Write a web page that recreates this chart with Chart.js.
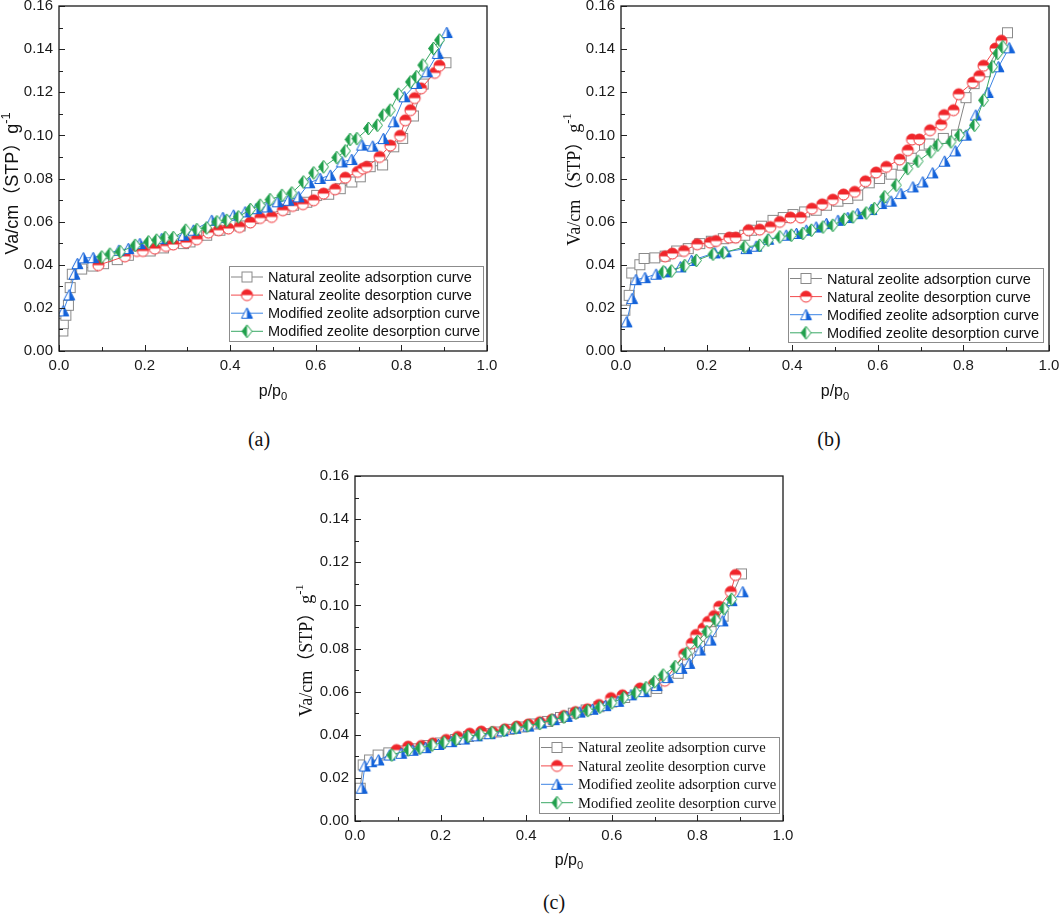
<!DOCTYPE html>
<html>
<head>
<meta charset="utf-8">
<script src="https://cdn.jsdelivr.net/npm/chart.js@4.4.1/dist/chart.umd.min.js"></script>
<style>
    html, body { margin: 0; padding: 0; background: #fff; overflow: hidden; width: 1059px; height: 921px; }
    canvas { position: absolute; }
    .cap { position: absolute; font-family: 'Liberation Serif', 'Times New Roman', serif; font-size: 20px; color: #111; transform: translate(-50%, -50%); }
</style>
</head>
<body>
<canvas id="chartA" width="510" height="424" style="left:0;top:-14px"></canvas>
<canvas id="chartB" width="510" height="424" style="left:562px;top:-14px"></canvas>
<canvas id="chartC" width="510" height="424" style="left:296px;top:456px"></canvas>
<div class="cap" style="left:259px;top:439px">(a)</div>
<div class="cap" style="left:829px;top:439px">(b)</div>
<div class="cap" style="left:554px;top:902px">(c)</div>

<script>
const seriesNames = [
    'Natural zeolite adsorption curve',
    'Natural zeolite desorption curve',
    'Modified zeolite adsorption curve',
    'Modified zeolite desorption curve'
];
const xTickLabels = ['0.0', '0.2', '0.4', '0.6', '0.8', '1.0'];
const yTickLabels = ['0.00', '0.02', '0.04', '0.06', '0.08', '0.10', '0.12', '0.14', '0.16'];

// (a) values as [p/p0, Va]
const aNatAds = [[0.009,0.0093],[0.010,0.0127],[0.016,0.0166],[0.022,0.0212],[0.026,0.0294],[0.031,0.0356],[0.053,0.0380],[0.079,0.0394],[0.104,0.0405],[0.136,0.0424],[0.162,0.0444],[0.213,0.0464],[0.244,0.0478],[0.291,0.0498],[0.306,0.0506],[0.345,0.0537],[0.376,0.0560],[0.423,0.0580],[0.454,0.0614],[0.478,0.0630],[0.528,0.0656],[0.548,0.0676],[0.579,0.0690],[0.602,0.0722],[0.630,0.0727],[0.657,0.0753],[0.684,0.0784],[0.704,0.0808],[0.727,0.0855],[0.756,0.0863],[0.782,0.0947],[0.803,0.0986],[0.828,0.1090],[0.851,0.1238],[0.904,0.1337]];
const aNatDes = [[0.092,0.0398],[0.154,0.0439],[0.182,0.0464],[0.196,0.0464],[0.224,0.0475],[0.250,0.0487],[0.267,0.0494],[0.297,0.0503],[0.322,0.0518],[0.349,0.0549],[0.373,0.0560],[0.396,0.0568],[0.422,0.0575],[0.447,0.0596],[0.470,0.0617],[0.497,0.0622],[0.523,0.0653],[0.546,0.0673],[0.570,0.0681],[0.595,0.0699],[0.618,0.0730],[0.645,0.0750],[0.669,0.0804],[0.698,0.0831],[0.710,0.0846],[0.719,0.0854],[0.749,0.0900],[0.774,0.0953],[0.797,0.0998],[0.809,0.1070],[0.821,0.1117],[0.831,0.1173],[0.846,0.1218],[0.878,0.1290],[0.889,0.1323]];
const aModAds = [[0.010,0.0186],[0.024,0.0260],[0.036,0.0356],[0.043,0.0405],[0.057,0.0432],[0.080,0.0433],[0.140,0.0467],[0.162,0.0475],[0.189,0.0498],[0.240,0.0521],[0.291,0.0537],[0.314,0.0560],[0.357,0.0606],[0.383,0.0619],[0.408,0.0630],[0.435,0.0645],[0.461,0.0660],[0.486,0.0668],[0.511,0.0692],[0.536,0.0699],[0.560,0.0715],[0.585,0.0780],[0.610,0.0800],[0.634,0.0815],[0.661,0.0877],[0.684,0.0888],[0.708,0.0955],[0.733,0.0950],[0.758,0.0985],[0.782,0.1063],[0.807,0.1179],[0.835,0.1241],[0.860,0.1295],[0.885,0.1380],[0.906,0.1477]];
const aModDes = [[0.100,0.0436],[0.119,0.0449],[0.143,0.0460],[0.178,0.0490],[0.209,0.0506],[0.228,0.0514],[0.248,0.0526],[0.267,0.0526],[0.296,0.0560],[0.322,0.0563],[0.345,0.0571],[0.369,0.0599],[0.392,0.0606],[0.419,0.0622],[0.447,0.0656],[0.470,0.0676],[0.493,0.0702],[0.521,0.0722],[0.544,0.0733],[0.571,0.0784],[0.595,0.0826],[0.618,0.0854],[0.649,0.0897],[0.669,0.0928],[0.680,0.0981],[0.696,0.0985],[0.723,0.1032],[0.744,0.1047],[0.758,0.1094],[0.774,0.1117],[0.793,0.1191],[0.821,0.1248],[0.835,0.1272],[0.850,0.1326],[0.875,0.1403],[0.889,0.1442]];

// (b)
const bNatAds = [[0.009,0.0189],[0.019,0.0258],[0.025,0.0362],[0.044,0.0400],[0.054,0.0429],[0.079,0.0432],[0.103,0.0440],[0.130,0.0464],[0.157,0.0475],[0.184,0.0498],[0.211,0.0509],[0.239,0.0521],[0.262,0.0526],[0.289,0.0537],[0.305,0.0560],[0.328,0.0579],[0.355,0.0606],[0.379,0.0619],[0.402,0.0633],[0.429,0.0645],[0.456,0.0653],[0.480,0.0676],[0.507,0.0695],[0.530,0.0707],[0.553,0.0723],[0.580,0.0780],[0.604,0.0800],[0.631,0.0820],[0.657,0.0862],[0.678,0.0894],[0.709,0.0955],[0.720,0.0960],[0.753,0.0986],[0.784,0.1002],[0.806,0.1175],[0.825,0.1240],[0.851,0.1295],[0.903,0.1476]];
const bNatDes = [[0.103,0.0439],[0.120,0.0452],[0.147,0.0464],[0.178,0.0495],[0.208,0.0503],[0.222,0.0510],[0.253,0.0526],[0.268,0.0526],[0.298,0.0560],[0.324,0.0563],[0.349,0.0575],[0.371,0.0599],[0.396,0.0619],[0.420,0.0619],[0.446,0.0660],[0.470,0.0680],[0.495,0.0702],[0.520,0.0726],[0.546,0.0738],[0.571,0.0787],[0.596,0.0828],[0.620,0.0854],[0.651,0.0888],[0.670,0.0931],[0.680,0.0981],[0.697,0.0981],[0.722,0.1024],[0.748,0.1050],[0.755,0.1094],[0.777,0.1117],[0.789,0.1191],[0.822,0.1245],[0.837,0.1275],[0.847,0.1323],[0.875,0.1403],[0.889,0.1439]];
const bModAds = [[0.013,0.0135],[0.026,0.0243],[0.035,0.0331],[0.056,0.0340],[0.082,0.0356],[0.103,0.0367],[0.139,0.0390],[0.165,0.0420],[0.219,0.0455],[0.245,0.0460],[0.293,0.0475],[0.316,0.0486],[0.344,0.0518],[0.386,0.0537],[0.410,0.0545],[0.433,0.0560],[0.456,0.0575],[0.480,0.0591],[0.507,0.0606],[0.530,0.0619],[0.553,0.0637],[0.585,0.0656],[0.608,0.0684],[0.631,0.0695],[0.654,0.0730],[0.682,0.0761],[0.705,0.0784],[0.728,0.0826],[0.756,0.0880],[0.781,0.0928],[0.806,0.1001],[0.829,0.1094],[0.857,0.1199],[0.882,0.1318],[0.907,0.1406]];
const bModDes = [[0.099,0.0367],[0.118,0.0371],[0.149,0.0396],[0.176,0.0420],[0.215,0.0449],[0.240,0.0456],[0.289,0.0483],[0.324,0.0490],[0.344,0.0514],[0.371,0.0529],[0.398,0.0537],[0.425,0.0545],[0.445,0.0560],[0.472,0.0575],[0.495,0.0583],[0.522,0.0611],[0.542,0.0622],[0.573,0.0640],[0.592,0.0660],[0.616,0.0715],[0.643,0.0769],[0.670,0.0846],[0.694,0.0880],[0.724,0.0924],[0.740,0.0955],[0.771,0.0970],[0.791,0.1001],[0.826,0.1047],[0.847,0.1163],[0.868,0.1318],[0.880,0.1380],[0.892,0.1411]];

// (c)
const cNatAds = [[0.012,0.0152],[0.019,0.0260],[0.034,0.0283],[0.054,0.0306],[0.079,0.0316],[0.110,0.0325],[0.140,0.0335],[0.170,0.0350],[0.200,0.0362],[0.235,0.0378],[0.265,0.0392],[0.300,0.0405],[0.330,0.0413],[0.360,0.0425],[0.390,0.0436],[0.420,0.0450],[0.450,0.0462],[0.480,0.0480],[0.510,0.0500],[0.540,0.0515],[0.570,0.0530],[0.600,0.0552],[0.630,0.0573],[0.680,0.0600],[0.705,0.0615],[0.755,0.0685],[0.777,0.0747],[0.805,0.0810],[0.832,0.0878],[0.860,0.0950],[0.903,0.1146]];
const cNatDes = [[0.097,0.0329],[0.124,0.0345],[0.155,0.0348],[0.182,0.0360],[0.213,0.0376],[0.240,0.0390],[0.268,0.0405],[0.295,0.0415],[0.322,0.0412],[0.350,0.0425],[0.378,0.0438],[0.405,0.0448],[0.432,0.0458],[0.460,0.0470],[0.488,0.0487],[0.515,0.0505],[0.543,0.0518],[0.570,0.0538],[0.598,0.0570],[0.625,0.0583],[0.666,0.0615],[0.698,0.0635],[0.724,0.0651],[0.769,0.0774],[0.787,0.0824],[0.797,0.0863],[0.814,0.0894],[0.825,0.0924],[0.839,0.0951],[0.851,0.0994],[0.878,0.1063],[0.889,0.1141]];
const cModAds = [[0.016,0.0152],[0.023,0.0255],[0.038,0.0275],[0.055,0.0283],[0.081,0.0306],[0.108,0.0314],[0.135,0.0328],[0.165,0.0340],[0.195,0.0355],[0.225,0.0368],[0.255,0.0380],[0.285,0.0395],[0.315,0.0405],[0.345,0.0418],[0.375,0.0430],[0.405,0.0440],[0.435,0.0455],[0.465,0.0470],[0.495,0.0485],[0.525,0.0505],[0.555,0.0518],[0.585,0.0535],[0.615,0.0555],[0.645,0.0585],[0.675,0.0600],[0.705,0.0628],[0.731,0.0665],[0.763,0.0708],[0.781,0.0731],[0.806,0.0793],[0.831,0.0839],[0.859,0.0928],[0.880,0.1022],[0.906,0.1063]];
const cModDes = [[0.086,0.0306],[0.125,0.0330],[0.152,0.0338],[0.180,0.0352],[0.208,0.0365],[0.236,0.0378],[0.264,0.0392],[0.292,0.0402],[0.320,0.0410],[0.348,0.0420],[0.376,0.0432],[0.404,0.0442],[0.432,0.0452],[0.460,0.0468],[0.488,0.0482],[0.516,0.0500],[0.544,0.0512],[0.572,0.0528],[0.600,0.0548],[0.628,0.0572],[0.656,0.0595],[0.680,0.0618],[0.700,0.0646],[0.720,0.0677],[0.748,0.0716],[0.775,0.0778],[0.800,0.0832],[0.822,0.0878],[0.843,0.0932],[0.862,0.0985],[0.880,0.1028]];

const lineColors = ['#858585', '#f24a4d', '#3c84e4', '#3aa866'];
const markColors = ['#8a8a8a', '#f0262b', '#1463da', '#20a04c'];

// half-filled markers like the original plot symbols
function makeMarker(kind, color) {
    const c = document.createElement('canvas');
    c.width = 15; c.height = 15;
    const g = c.getContext('2d');
    g.lineWidth = 1;
    g.strokeStyle = color;
    g.fillStyle = '#fff';
    if (kind === 'square') {
        g.fillRect(2.5, 2.5, 10, 10);
        g.strokeRect(2.5, 2.5, 10, 10);
    } else if (kind === 'circle') {
        g.beginPath(); g.arc(7.5, 7.5, 5.5, 0, Math.PI * 2); g.fill();
        g.fillStyle = color;
        g.beginPath(); g.arc(7.5, 7.5, 5.5, Math.PI, Math.PI * 2); g.closePath(); g.fill();
        g.beginPath(); g.arc(7.5, 7.5, 5.5, 0, Math.PI * 2); g.stroke();
    } else if (kind === 'triangle') {
        g.beginPath(); g.moveTo(7.5, 2); g.lineTo(13, 12.5); g.lineTo(2, 12.5); g.closePath(); g.fill();
        g.fillStyle = color;
        g.beginPath(); g.moveTo(7.5, 2); g.lineTo(13, 12.5); g.lineTo(7.5, 12.5); g.closePath(); g.fill();
        g.beginPath(); g.moveTo(7.5, 2); g.lineTo(13, 12.5); g.lineTo(2, 12.5); g.closePath(); g.stroke();
    } else {
        g.beginPath(); g.moveTo(7.5, 1); g.lineTo(12.5, 7.5); g.lineTo(7.5, 14); g.lineTo(2.5, 7.5); g.closePath(); g.fill();
        g.fillStyle = color;
        g.beginPath(); g.moveTo(7.5, 1); g.lineTo(7.5, 14); g.lineTo(2.5, 7.5); g.closePath(); g.fill();
        g.beginPath(); g.moveTo(7.5, 1); g.lineTo(12.5, 7.5); g.lineTo(7.5, 14); g.lineTo(2.5, 7.5); g.closePath(); g.stroke();
    }
    return c;
}
const markers = ['square', 'circle', 'triangle', 'diamond'].map((k, i) => makeMarker(k, markColors[i]));

function pickLabel(v, list) {
    const hit = list.find(l => Math.abs(parseFloat(l) - v) < 1e-6);
    return hit || '';
}

// text with sub/superscript parts, centred on the current origin
function drawRich(ctx, parts, family, size) {
    let w = 0;
    parts.forEach(p => {
        ctx.font = (p.sup || p.sub ? size * 0.7 : size) + 'px ' + family;
        p.w = ctx.measureText(p.t).width;
        w += p.w;
    });
    let x = -w / 2;
    ctx.textAlign = 'left';
    ctx.textBaseline = 'middle';
    parts.forEach(p => {
        ctx.font = (p.sup || p.sub ? size * 0.7 : size) + 'px ' + family;
        const dy = p.sup ? -size * 0.38 : p.sub ? size * 0.3 : 0;
        ctx.fillText(p.t, x, dy);
        x += p.w;
    });
}

const sansFam = "'Liberation Sans', Arial, 'Noto Sans CJK SC', sans-serif";
const serifFam = "'Liberation Serif', 'Times New Roman', 'Noto Sans CJK SC', serif";

const panelDecor = {
    id: 'panelDecor',
    afterDraw(chart, args, opts) {
        const ctx = chart.ctx;
        const a = chart.chartArea;
        const xs = chart.scales.x, ys = chart.scales.y;
        ctx.save();

        // inward ticks
        ctx.strokeStyle = '#222';
        ctx.lineWidth = 1;
        xs.ticks.forEach(t => {
            const px = Math.round(xs.getPixelForValue(t.value)) + 0.5;
            const len = t.label ? 6 : 4;
            ctx.beginPath(); ctx.moveTo(px, a.bottom); ctx.lineTo(px, a.bottom - len); ctx.stroke();
        });
        ys.ticks.forEach(t => {
            const py = Math.round(ys.getPixelForValue(t.value)) + 0.5;
            const len = t.label ? 6 : 4;
            ctx.beginPath(); ctx.moveTo(a.left, py); ctx.lineTo(a.left + len, py); ctx.stroke();
        });

        // frame
        ctx.lineWidth = 1.3;
        ctx.strokeStyle = '#1a1a1a';
        ctx.strokeRect(a.left, a.top, a.right - a.left, a.bottom - a.top);

        // axis titles
        ctx.fillStyle = '#111';
        ctx.save();
        ctx.translate(a.left - opts.yTitleDx, (a.top + a.bottom) / 2 + opts.yTitleDy);
        ctx.rotate(-Math.PI / 2);
        drawRich(ctx, [{t: 'Va/cm\uFF08STP\uFF09g'}, {t: '-1', sup: true}], opts.yTitleFamily, 18);
        ctx.restore();

        ctx.save();
        ctx.translate((a.left + a.right) / 2, a.bottom + opts.xTitleDy);
        drawRich(ctx, [{t: 'p/p'}, {t: '0', sub: true}], sansFam, 16);
        ctx.restore();

        // legend
        const L = opts.legend;
        const bx = Math.round(a.right - L.right - L.w);
        const by = Math.round(a.bottom - L.bottom - L.h);
        ctx.fillStyle = '#fff';
        ctx.fillRect(bx, by, L.w, L.h);
        ctx.strokeStyle = '#8c8c8c';
        ctx.lineWidth = 1;
        ctx.strokeRect(bx + 0.5, by + 0.5, L.w, L.h);
        ctx.font = L.size + 'px ' + L.family;
        ctx.textAlign = 'left';
        ctx.textBaseline = 'middle';
        seriesNames.forEach((name, i) => {
            const ry = by + L.first + i * L.gap;
            const lx = bx + 2;
            ctx.strokeStyle = lineColors[i];
            ctx.beginPath(); ctx.moveTo(lx, ry); ctx.lineTo(lx + 32, ry); ctx.stroke();
            ctx.drawImage(markers[i], lx + 16 - 7.5, ry - 7.5);
            ctx.fillStyle = '#111';
            ctx.fillText(name, bx + 39, ry + 1);
        });

        ctx.restore();
    }
};

function makeChart(id, series, deco) {
    const tickFont = { family: sansFam, size: 15 };
    return new Chart(document.getElementById(id), {
        type: 'scatter',
        data: {
            datasets: series.map((s, i) => ({
                label: seriesNames[i],
                data: s.map(([x, y]) => ({ x, y })),
                order: series.length - 1 - i,   // later series drawn on top, as in the original
                showLine: true,
                borderColor: lineColors[i],
                borderWidth: 1,
                pointStyle: markers[i],
                pointRadius: 6,
                pointHoverRadius: 6,
                tension: 0
            }))
        },
        options: {
            responsive: false,
            animation: false,
            events: [],
            layout: { padding: { top: 20, right: 23, left: 0, bottom: 0 } },
            plugins: {
                legend: { display: false },
                tooltip: { enabled: false },
                panelDecor: deco
            },
            scales: {
                x: {
                    type: 'linear', min: 0, max: 1,
                    border: { display: false },
                    grid: { display: false, drawTicks: false },
                    ticks: { stepSize: 0.1, autoSkip: false, maxRotation: 0, padding: 6, color: '#1a1a1a', font: tickFont,
                        callback: v => pickLabel(v, xTickLabels) },
                    afterFit: s => { s.height = 59; }
                },
                y: {
                    type: 'linear', min: 0, max: 0.16,
                    border: { display: false },
                    grid: { display: false, drawTicks: false },
                    ticks: { stepSize: 0.01, autoSkip: false, padding: 6, color: '#1a1a1a', font: tickFont,
                        callback: v => pickLabel(v, yTickLabels) },
                    afterFit: s => { s.width = 59; }
                }
            }
        },
        plugins: [panelDecor]
    });
}

makeChart('chartA', [aNatAds, aNatDes, aModAds, aModDes], {
    yTitleDx: 46, yTitleDy: 5, yTitleFamily: sansFam, xTitleDy: 41,
    legend: { right: 4, bottom: 10, w: 254, h: 75, first: 11, gap: 18.1, size: 14.5, family: sansFam }
});
makeChart('chartB', [bNatAds, bNatDes, bModAds, bModDes], {
    yTitleDx: 46, yTitleDy: 1, yTitleFamily: serifFam, xTitleDy: 41,
    legend: { right: 6, bottom: 9, w: 255, h: 74, first: 10.5, gap: 18.1, size: 14.5, family: sansFam }
});
makeChart('chartC', [cNatAds, cNatDes, cModAds, cModDes], {
    yTitleDx: 48, yTitleDy: 2, yTitleFamily: serifFam, xTitleDy: 40,
    legend: { right: 4, bottom: 8, w: 240, h: 76, first: 10.5, gap: 18.4, size: 14.6, family: serifFam }
});
</script>
</body>
</html>
